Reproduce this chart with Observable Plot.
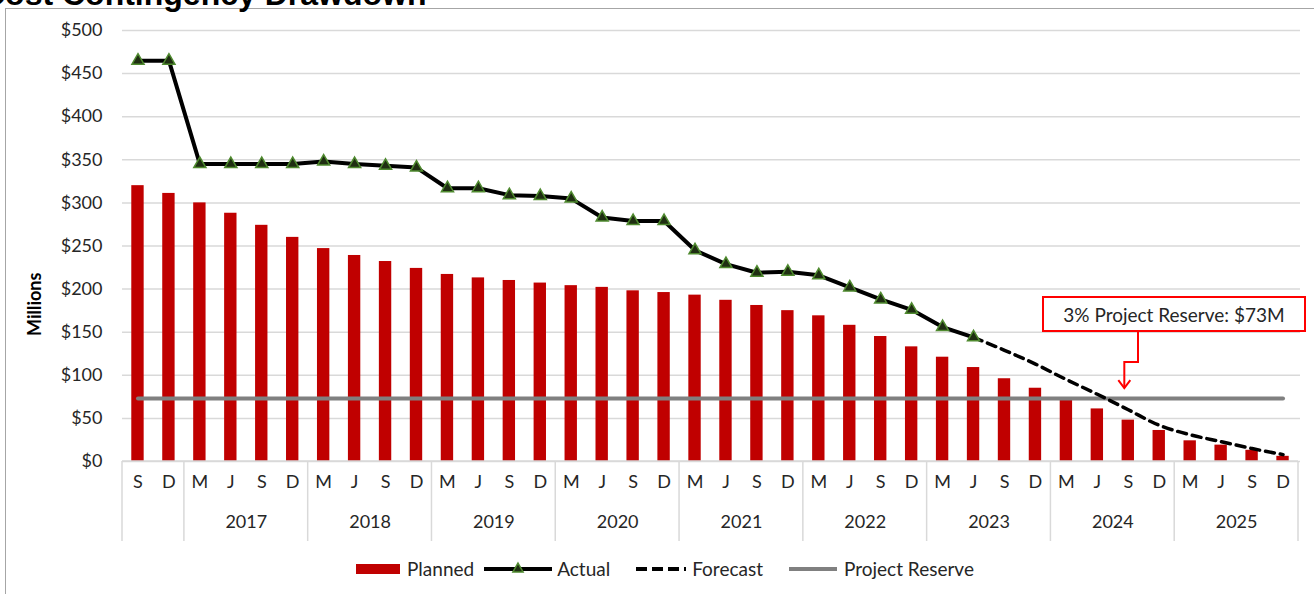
<!DOCTYPE html>
<html>
<head>
<meta charset="utf-8">
<script src="https://cdn.jsdelivr.net/npm/d3@7"></script>
<script src="https://cdn.jsdelivr.net/npm/@observablehq/plot@0.6"></script>
<style>
  html, body { margin: 0; padding: 0; background: #fff; }
  body { width: 1314px; height: 594px; overflow: hidden; position: relative; font-family: Lato, "Open Sans", sans-serif; }
  #frame { position: absolute; left: 5px; top: 8px; width: 1400px; height: 700px; border: 1.5px solid #a6a6a6; }
  #title { position: absolute; left: -18px; top: -24px; font: bold 32px "Liberation Sans", Arial, sans-serif; color: #000; white-space: nowrap; }
  #chart { position: absolute; left: 0; top: 0; }
  #legend { position: absolute; top: 557px; left: 356px; display: flex; align-items: center; font-size: 19px; color: #262626; white-space: nowrap; }
  #legend .item { display: flex; align-items: center; }
  #legend svg { margin-right: 5px; }
  #note { position: absolute; left: 1042px; top: 296px; width: 264px; height: 36px; border: 2px solid #ff0000; box-sizing: border-box; background: #fff; font-size: 19px; color: #262626; display: flex; align-items: center; justify-content: center; }
</style>
</head>
<body>
<div id="frame"></div>
<div id="title">Cost Contingency Drawdown</div>
<div id="chart"></div>
<div id="note">3% Project Reserve: $73M</div>
<div id="legend"></div>
<script>
// ---- data ----
const years = ["2016", "2016", "2017", "2017", "2017", "2017", "2018", "2018", "2018", "2018",
  "2019", "2019", "2019", "2019", "2020", "2020", "2020", "2020", "2021", "2021", "2021", "2021",
  "2022", "2022", "2022", "2022", "2023", "2023", "2023", "2023", "2024", "2024", "2024", "2024",
  "2025", "2025", "2025", "2025"];
const months = ["S", "D", "M", "J", "S", "D", "M", "J", "S", "D", "M", "J", "S", "D", "M", "J", "S", "D",
  "M", "J", "S", "D", "M", "J", "S", "D", "M", "J", "S", "D", "M", "J", "S", "D", "M", "J", "S", "D"];
const planned = [320, 311, 300, 288, 274, 260, 247, 239, 232, 224, 217, 213, 210, 207, 204, 202, 198, 196,
  193, 187, 181, 175, 169, 158, 145, 133, 121, 109, 96, 85, 72, 61, 48, 36, 24, 19, 13, 6];
const actual = [465, 465, 345, 345, 345, 345, 348, 345, 343, 341, 317, 317, 309, 308, 305, 283, 279, 279,
  245, 229, 219, 220, 216, 202, 188, 176, 156, 144, null, null, null, null, null, null, null, null, null, null];
const forecast = [null, null, null, null, null, null, null, null, null, null, null, null, null, null, null, null, null, null,
  null, null, null, null, null, null, null, null, null, 144, 129, 113, 95, 78, 60, 42, 31, 23, 15, 8];
const reserve = 73;
const yTicks = [0, 50, 100, 150, 200, 250, 300, 350, 400, 450, 500];
const yearLabels = ["2017", "2018", "2019", "2020", "2021", "2022", "2023", "2024", "2025"];

// ---- table ----
const keys = years.map((y, i) => y + "-" + i);
const rows = keys.map((k, i) => ({key: k, year: years[i], month: months[i], planned: planned[i],
  actual: actual[i], forecast: forecast[i], reserve}));
const monthOf = new Map(rows.map(d => [d.key, d.month]));

const W = 1314, H = 545, ML = 122, MR = 16, MT = 30, MB = 84;
const step = (W - ML - MR) / keys.length;

const yearGroups = yearLabels.map(y => {
  const ks = rows.filter(d => d.year === y).map(d => d.key);
  return {year: y, first: ks[0], mid: ks[1]};
});

const plot = Plot.plot({
  width: W, height: H,
  marginLeft: ML, marginRight: MR, marginTop: MT, marginBottom: MB,
  style: {fontFamily: "Lato, 'Open Sans', sans-serif", fontSize: "18px", color: "#262626", background: "transparent"},
  x: {type: "band", domain: keys, paddingInner: 0.6, paddingOuter: 0.3, label: null},
  y: {domain: [0, 500], label: null},
  marks: [
    Plot.gridY(yTicks, {stroke: "#d9d9d9", strokeOpacity: 1, strokeWidth: 1.5, insetRight: -2}),
    Plot.axisY(yTicks, {tickSize: 0, tickPadding: 20, tickFormat: d => "$" + d, fontSize: 18}),
    Plot.axisX({tickSize: 0, tickPadding: 14, tickFormat: k => monthOf.get(k), fontSize: 18}),
    Plot.barY(rows, {x: "key", y: "planned", fill: "#c00000"}),
    Plot.lineY(rows, {x: "key", y: "reserve", stroke: "#808080", strokeWidth: 4}),
    Plot.lineY(rows.filter(d => d.forecast != null), {x: "key", y: "forecast", stroke: "#000", strokeWidth: 3.5, strokeDasharray: "9,6", curve: "monotone-x"}),
    Plot.lineY(rows.filter(d => d.actual != null), {x: "key", y: "actual", stroke: "#000", strokeWidth: 4}),
    Plot.dot(rows.filter(d => d.actual != null), {x: "key", y: "actual", symbol: "triangle", r: 4.5, fill: "#1f2e12", stroke: "#4f8a2f", strokeWidth: 1.5}),
    Plot.text(yearGroups, {x: "mid", text: "year", dx: step / 2, frameAnchor: "bottom", dy: 66, fontSize: 18, fill: "#262626"}),
    Plot.text(["Millions"], {text: d => d, frameAnchor: "left", dx: -87, dy: 90, rotate: -90, fontWeight: "bold", fontSize: 18, fill: "#000"})
  ]
});

// axis box and year separators, positioned with the plot's own x scale
const xs = plot.scale("x");
const svg = d3.select(plot);
const yBase = H - MB;
const g = svg.append("g").attr("stroke", "#d9d9d9").attr("stroke-width", 1.5);
const left = ML, right = W - MR;
g.append("line").attr("x1", left).attr("x2", right).attr("y1", yBase).attr("y2", yBase);
const seps = [left, ...yearGroups.map(d => xs.apply(d.first) - (step - xs.bandwidth) / 2), right];
seps.forEach(x => g.append("line").attr("x1", x).attr("x2", x).attr("y1", yBase).attr("y2", yBase + 80));

document.getElementById("chart").appendChild(plot);

// callout arrow
const ys = plot.scale("y");
const ax1 = xs.apply("2024-32") + xs.bandwidth / 2 + step * 0.33;
const ax2 = xs.apply("2024-31") + xs.bandwidth / 2 + step * 0.5 + 12;
const arrowSvg = d3.select(plot).append("g").attr("fill", "none").attr("stroke", "#ff0000").attr("stroke-width", 2);
const yTop = 331, yMid = 362, yTip = ys.apply(reserve) - 10;
arrowSvg.append("path").attr("d", `M${ax1},${yTop}V${yMid}H${ax2}V${yTip}`);
arrowSvg.append("path").attr("d", `M${ax2 - 6},${yTip - 8}L${ax2},${yTip}L${ax2 + 6},${yTip - 8}`);

// legend
const legend = d3.select("#legend");
function item(w, draw, label, gap) {
  const it = legend.append("div").attr("class", "item").style("margin-right", gap + "px");
  const s = it.append("svg").attr("width", w).attr("height", 16);
  draw(s);
  it.append("span").text(label);
}
item(46, s => s.append("rect").attr("x", 0).attr("y", 3).attr("width", 44).attr("height", 10).attr("fill", "#c00000"), "Planned", 10);
item(68, s => {
  s.append("line").attr("x1", 0).attr("x2", 68).attr("y1", 8).attr("y2", 8).attr("stroke", "#000").attr("stroke-width", 4);
  s.append("path").attr("d", d3.symbol(d3.symbolTriangle, 45)()).attr("transform", "translate(34,8)").attr("fill", "#1f2e12").attr("stroke", "#4f8a2f").attr("stroke-width", 1.5);
}, "Actual", 26);
item(51, s => s.append("line").attr("x1", 0).attr("x2", 50).attr("y1", 8).attr("y2", 8).attr("stroke", "#000").attr("stroke-width", 4).attr("stroke-dasharray", "11,5"), "Forecast", 26);
item(50, s => s.append("line").attr("x1", 0).attr("x2", 48).attr("y1", 8).attr("y2", 8).attr("stroke", "#808080").attr("stroke-width", 4), "Project Reserve", 0);
</script>
</body>
</html>
